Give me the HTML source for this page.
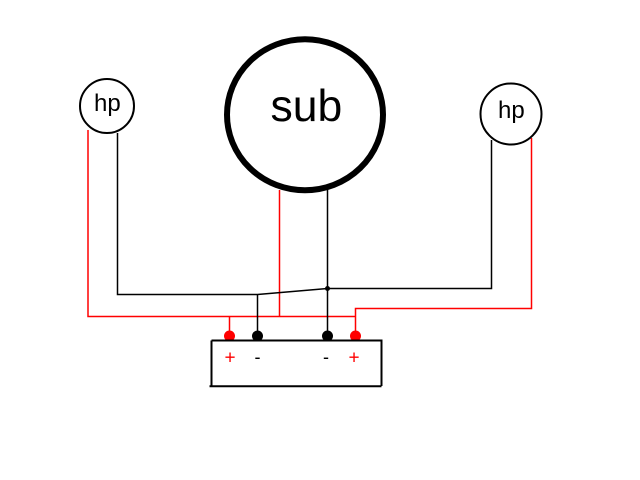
<!DOCTYPE html>
<html>
<head>
<meta charset="utf-8">
<style>
html,body{margin:0;padding:0;background:#fff;}
svg{display:block;}
text{font-family:"Liberation Sans",sans-serif;}
</style>
</head>
<body>
<svg width="640" height="480" viewBox="0 0 640 480" xmlns="http://www.w3.org/2000/svg">
<rect width="640" height="480" fill="#fff"/>
<g fill="none" stroke="#ff0000" stroke-width="1.5">
<path d="M88 130V316.500H355.500"/>
<path d="M279.500 190V316.500"/>
<path d="M229.500 316.500V336"/>
<path d="M355.500 336V308.500H531.500V138"/>
</g>
<g fill="none" stroke="#000" stroke-width="1.5">
<path d="M117.500 133V294.500H257.500L327.500 288.500H491.500V140"/>
<path d="M257.500 294.500V336"/>
<path d="M327.500 190V336"/>
</g>
<circle cx="327.500" cy="288.500" r="2.500" fill="#000"/>
<circle cx="229.500" cy="336" r="5.500" fill="#ff0000"/>
<circle cx="257.500" cy="336" r="5.500" fill="#000"/>
<circle cx="327.500" cy="336" r="5.500" fill="#000"/>
<circle cx="355.500" cy="336" r="5.500" fill="#ff0000"/>
<path d="M211.500 340.500H381.500V386M211.500 340.500V386M209.500 386.200H381.500" fill="none" stroke="#000" stroke-width="2"/>
<ellipse cx="305" cy="114.700" rx="78" ry="75.500" fill="none" stroke="#000" stroke-width="6"/>
<circle cx="107" cy="106" r="27" fill="none" stroke="#000" stroke-width="2"/>
<circle cx="511" cy="114" r="30.500" fill="none" stroke="#000" stroke-width="2"/>
<text x="270.500" y="121" font-size="44.500" fill="#000">sub</text>
<text x="94" y="111" font-size="24" fill="#000">hp</text>
<text x="498" y="118" font-size="24" fill="#000">hp</text>
<text x="230" y="363.500" font-size="19" text-anchor="middle" fill="#ff0000">+</text>
<text x="354" y="363.500" font-size="19" text-anchor="middle" fill="#ff0000">+</text>
<text x="257.500" y="363" font-size="18" text-anchor="middle" fill="#000">-</text>
<text x="326" y="363" font-size="18" text-anchor="middle" fill="#000">-</text>
</svg>
</body>
</html>
